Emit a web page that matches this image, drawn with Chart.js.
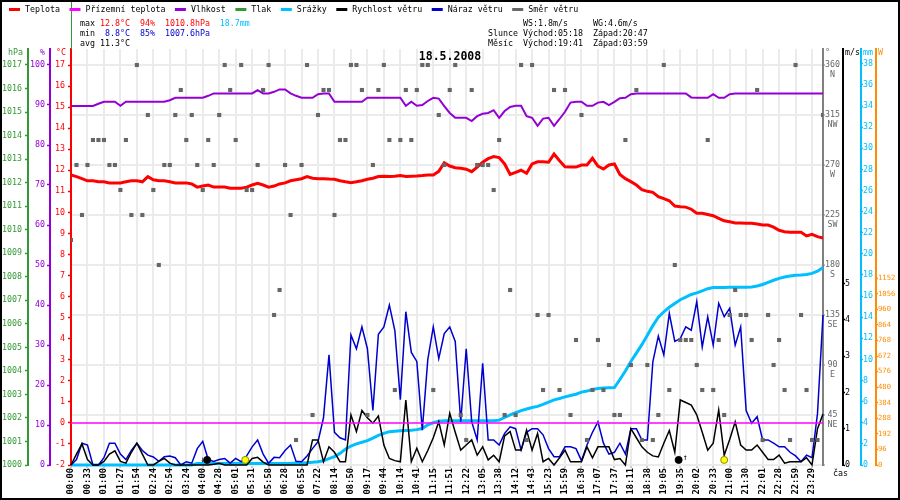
<!DOCTYPE html>
<html>
<head>
<meta charset="utf-8">
<title>18.5.2008</title>
<script src="https://cdn.jsdelivr.net/npm/chart.js@4.4.1/dist/chart.umd.min.js"></script>
<style>
  html, body { margin: 0; padding: 0; background: #fff; }
  #wrap { width: 900px; height: 500px; position: relative; }
</style>
</head>
<body>
<div id="wrap"><canvas id="meteo"></canvas></div>
<script>
// Time of every third sample, as printed under the chart
const timeLabels = [
  '00:00', '00:33', '01:00', '01:27', '01:54', '02:24', '02:54', '03:24', '04:00', '04:28',
  '05:01', '05:31', '05:58', '06:28', '06:55', '07:22', '08:14', '08:50', '09:17', '09:44',
  '10:14', '10:41', '11:15', '11:51', '12:22', '13:05', '13:38', '14:12', '14:43', '15:23',
  '15:59', '16:30', '17:07', '17:37', '18:11', '18:38', '19:05', '19:35', '20:02', '20:33',
  '21:00', '21:30', '22:01', '22:28', '22:59', '23:29'
];

// Samples (138 of them)
const temperature = [
  11.78, 11.7, 11.6, 11.5, 11.5, 11.45, 11.45, 11.4, 11.4, 11.4,
  11.45, 11.5, 11.5, 11.45, 11.7, 11.55, 11.5, 11.5, 11.45, 11.4,
  11.4, 11.4, 11.35, 11.2, 11.25, 11.3, 11.2, 11.2, 11.2, 11.15,
  11.15, 11.15, 11.2, 11.3, 11.38, 11.3, 11.2, 11.25, 11.35, 11.4,
  11.5, 11.55, 11.6, 11.7, 11.62, 11.6, 11.6, 11.58, 11.57, 11.5,
  11.45, 11.41, 11.45, 11.5, 11.57, 11.62, 11.7, 11.72, 11.7, 11.72,
  11.75, 11.7, 11.72, 11.73, 11.75, 11.78, 11.78, 11.95, 12.36, 12.2,
  12.12, 12.1, 12.05, 11.93, 12.15, 12.38, 12.55, 12.65, 12.6, 12.3,
  11.8, 11.9, 12.0, 11.86, 12.3, 12.4, 12.4, 12.38, 12.77, 12.45,
  12.17, 12.15, 12.15, 12.25, 12.25, 12.57, 12.2, 12.06, 12.25, 12.3,
  11.8, 11.6, 11.46, 11.3, 11.08, 11.0, 10.95, 10.75, 10.65, 10.55,
  10.3, 10.27, 10.25, 10.15, 9.96, 9.96, 9.9, 9.84, 9.72, 9.6,
  9.55, 9.5, 9.5, 9.48, 9.48, 9.45, 9.4, 9.4, 9.3, 9.15,
  9.08, 9.06, 9.05, 9.05, 8.88, 8.96, 8.85, 8.78
];

const groundTemp = [
  0, 0, 0, 0, 0, 0, 0, 0, 0, 0,
  0, 0, 0, 0, 0, 0, 0, 0, 0, 0,
  0, 0, 0, 0, 0, 0, 0, 0, 0, 0,
  0, 0, 0, 0, 0, 0, 0, 0, 0, 0,
  0, 0, 0, 0, 0, 0, 0, 0, 0, 0,
  0, 0, 0, 0, 0, 0, 0, 0, 0, 0,
  0, 0, 0, 0, 0, 0, 0, 0, 0, 0,
  0, 0, 0, 0, 0, 0, 0, 0, 0, 0,
  0, 0, 0, 0, 0, 0, 0, 0, 0, 0,
  0, 0, 0, 0, 0, 0, 0, 0, 0, 0,
  0, 0, 0, 0, 0, 0, 0, 0, 0, 0,
  0, 0, 0, 0, 0, 0, 0, 0, 0, 0,
  0, 0, 0, 0, 0, 0, 0, 0, 0, 0,
  0, 0, 0, 0, 0, 0, 0, 0
];

const humidity = [
  89.75, 89.75, 89.75, 89.75, 89.75, 90.3, 90.8, 90.8, 90.8, 89.8,
  90.8, 90.8, 90.8, 90.8, 90.8, 90.8, 90.8, 90.8, 91.2, 91.8,
  91.8, 91.8, 91.8, 91.8, 91.8, 92.3, 92.9, 92.9, 92.9, 92.9,
  92.9, 92.9, 92.9, 92.9, 93.7, 92.9, 92.9, 93.3, 93.9, 93.9,
  92.9, 92.3, 91.8, 91.8, 91.8, 92.7, 92.9, 92.9, 90.8, 90.8,
  90.8, 90.8, 90.8, 90.8, 91.8, 91.8, 91.8, 91.8, 91.8, 91.8,
  91.8, 89.8, 90.8, 89.8, 90.0, 91.0, 91.8, 91.6, 89.7, 88.0,
  86.8, 86.8, 86.8, 86.0, 87.2, 87.8, 88.0, 88.7, 86.8, 88.5,
  89.5, 89.8, 89.8, 87.2, 86.8, 84.8, 86.6, 86.8, 84.8, 86.5,
  88.3, 90.6, 90.8, 90.8, 89.8, 89.8, 90.6, 90.8, 90.0, 90.8,
  91.7, 91.8, 92.7, 92.9, 92.9, 92.9, 92.9, 92.9, 92.9, 92.9,
  92.9, 92.9, 92.9, 91.9, 91.8, 91.8, 91.8, 92.7, 91.8, 91.8,
  92.7, 92.9, 92.9, 92.9, 92.9, 92.9, 92.9, 92.9, 92.9, 92.9,
  92.9, 92.9, 92.9, 92.9, 92.9, 92.9, 92.9, 92.9
];

// no pressure trace is drawn on this day, only its max/min in the header
const pressure = [];

const rainTotal = [
  0, 0, 0, 0, 0, 0, 0, 0, 0, 0,
  0, 0, 0, 0, 0, 0, 0, 0, 0, 0,
  0, 0, 0, 0.15, 0.15, 0.15, 0.15, 0.15, 0.15, 0.15,
  0.15, 0.15, 0.15, 0.15, 0.15, 0.15, 0.15, 0.15, 0.15, 0.15,
  0.15, 0.18, 0.2, 0.22, 0.25, 0.3, 0.4, 0.6, 0.8, 1.1,
  1.5, 1.8, 2.0, 2.15, 2.3, 2.55, 2.8, 3.0, 3.16, 3.2,
  3.24, 3.27, 3.3, 3.35, 3.45, 3.8, 4.0, 4.15, 4.2, 4.2,
  4.2, 4.2, 4.2, 4.2, 4.2, 4.2, 4.2, 4.2, 4.25, 4.5,
  4.75, 4.95, 5.15, 5.3, 5.45, 5.55, 5.75, 5.95, 6.17, 6.3,
  6.45, 6.58, 6.7, 6.9, 7.0, 7.15, 7.25, 7.3, 7.32, 7.34,
  8.1, 8.9, 9.8, 10.6, 11.4, 12.3, 13.2, 14.0, 14.5, 14.95,
  15.3, 15.65, 15.9, 16.15, 16.3, 16.5, 16.7, 16.8, 16.82, 16.82,
  16.83, 16.83, 16.84, 16.84, 16.85, 16.95, 17.1, 17.3, 17.5, 17.68,
  17.8, 17.9, 17.97, 18.0, 18.05, 18.15, 18.35, 18.7
];

const windSpeed = [
  0, 0.3, 0.58, 0.15, 0, 0, 0.1, 0.3, 0.39, 0.1,
  0.05, 0.35, 0.6, 0.3, 0, 0, 0.1, 0.18, 0.05, 0,
  0, 0, 0, 0, 0, 0, 0.02, 0.05, 0, 0,
  0, 0, 0, 0.18, 0.21, 0.08, 0, 0, 0, 0,
  0, 0, 0, 0, 0.69, 0.69, 0.09, 0.5, 0.35, 0.09,
  0.09, 1.38, 0.92, 1.5, 1.3, 1.15, 1.35, 0.55, 0.18, 0.12,
  0.09, 1.79, 0.09, 0.46, 0.09, 0.4, 0.75, 1.19, 0.55, 1.42,
  0.9, 0.41, 0.55, 0.69, 0.27, 0.5, 0.14, 0.27, 0.09, 0.8,
  0.92, 0.41, 0.41, 0.96, 0.41, 0.87, 0.09, 0.18, 0, 0.2,
  0.41, 0.09, 0.09, 0.09, 0.5, 0.2, 0.5, 0.5, 0.5, 0.15,
  0.18, 0, 1.0, 0.75, 0.5, 0.35, 0.25, 0.22, 0.6, 0.95,
  0.35, 1.79, 1.72, 1.65, 1.38, 0.9, 0.41, 0.6, 1.51, 0.27,
  0.7, 1.19, 0.55, 0.41, 0.41, 0.55, 0.35, 0.15, 0.15, 0.27,
  0.05, 0.09, 0.09, 0.09, 0.2, 0, 1.0, 1.4
];

const windGust = [
  0, 0.15, 0.6, 0.55, 0, 0, 0.2, 0.6, 0.6, 0.3,
  0.15, 0.4, 0.6, 0.4, 0.27, 0.22, 0.1, 0.23, 0.25, 0.2,
  0, 0.09, 0.05, 0.45, 0.65, 0.15, 0.1, 0.15, 0.18, 0.05,
  0.18, 0.09, 0.25, 0.5, 0.69, 0.3, 0.05, 0.21, 0.2, 0.4,
  0.55, 0.1, 0.09, 0.25, 0.45, 0.64, 1.3, 3.03, 0.9, 0.75,
  0.69, 3.58, 3.2, 3.8, 3.2, 1.5, 3.6, 3.8, 4.4, 3.7,
  1.8, 4.22, 3.1, 2.85, 0.96, 2.9, 3.8, 2.93, 3.62, 3.8,
  3.4, 1.19, 3.2, 1.19, 0.69, 2.8, 0.69, 0.69, 0.55, 0.87,
  1.05, 1.0, 0.41, 0.9, 1.0, 1.0, 0.83, 0.45, 0.23, 0.23,
  0.5, 0.5, 0.45, 0.12, 0.55, 0.9, 1.19, 0.6, 0.3, 0.35,
  0.6, 0.3, 1.0, 1.0, 0.69, 0.69, 2.84, 3.55, 3.03, 4.17,
  3.4, 3.48, 3.8, 3.71, 4.5, 3.25, 4.08, 3.3, 4.45, 4.08,
  4.31, 3.3, 3.8, 1.5, 1.15, 1.33, 0.69, 0.69, 0.6, 0.5,
  0.5, 0.35, 0.25, 0.09, 0.27, 0.2, 1.42, 4.13
];

const windDir = [
  202.5, 270, 225, 270, 292.5, 292.5, 292.5, 270, 270, 247.5,
  292.5, 225, 360, 225, 315, 247.5, 180, 270, 270, 315,
  337.5, 292.5, 315, 270, 247.5, 292.5, 270, 315, 360, 337.5,
  292.5, 360, 247.5, 247.5, 270, 337.5, 360, 135, 157.5, 270,
  225, 22.5, 270, 360, 45, 315, 337.5, 337.5, 225, 292.5,
  292.5, 360, 360, 337.5, 45, 270, 337.5, 360, 292.5, 67.5,
  292.5, 337.5, 292.5, 337.5, 360, 360, 67.5, 315, 270, 337.5,
  360, 45, 22.5, 337.5, 270, 270, 270, 247.5, 292.5, 45,
  157.5, 45, 360, 22.5, 360, 135, 67.5, 135, 337.5, 67.5,
  337.5, 45, 112.5, 315, 22.5, 67.5, 112.5, 67.5, 90, 45,
  45, 292.5, 90, 337.5, 22.5, 90, 22.5, 45, 360, 67.5,
  180, 112.5, 112.5, 112.5, 90, 67.5, 292.5, 67.5, 112.5, 45,
  135, 157.5, 135, 135, 112.5, 337.5, 22.5, 135, 90, 112.5,
  67.5, 22.5, 360, 135, 67.5, 22.5, 22.5, 315
];

// Moon and sun events, in sample positions along the time axis
const astroAt = [24.8, 31.75, 110.7, 119.0];
const astroKind = ['moonset', 'sunrise', 'moonrise', 'sunset'];

// Header texts
const dayTitle = '18.5.2008';
const statMax = ['12.8°C', '94%', '1010.8hPa', '18.7mm'];
const statMin = ['8.8°C', '85%', '1007.6hPa'];
const statAvg = '11.3°C';
const windMax = ['WS:1.8m/s', 'WG:4.6m/s'];
const sunTimes = ['Východ:05:18', 'Západ:20:47'];
const moonTimes = ['Východ:19:41', 'Západ:03:59'];
const compass = ['', 'NE', 'E', 'SE', 'S', 'SW', 'W', 'NW', 'N'];

const RED = '#ff0000', MAGENTA = '#ff00ff', PURPLE = '#9400d3', GREEN = '#339933',
  CYAN = '#00bfff', BLUE = '#0000cd', MINBLUE = '#0000cc', GRAY = '#666666',
  DIRGRAY = '#808080', ORANGE = '#ff8c00', GRID = '#ebebeb';
const MONO = '"DejaVu Sans Mono", monospace';
const SMALL = '8.3px ' + MONO;

Chart.defaults.font.family = MONO;
Chart.defaults.font.size = 8.3;
Chart.defaults.color = '#000';

const xy = arr => arr.map((v, i) => ({ x: i, y: v }));

// Draw pieces of text one after another, each in its own colour
function drawRun(ctx, parts, x, y) {
  parts.forEach(([text, color]) => {
    ctx.fillStyle = color;
    ctx.fillText(text, x, y);
    x += ctx.measureText(text).width;
  });
}

// Legend, header block, title, axis units and the frame
const meteoDecor = {
  id: 'meteoDecor',
  afterDraw(chart) {
    const { ctx, chartArea: area, scales } = chart;
    ctx.save();
    ctx.textBaseline = 'middle';
    ctx.textAlign = 'left';
    ctx.font = SMALL;

    // separator from the top edge down to the plot
    ctx.strokeStyle = GREEN;
    ctx.lineWidth = 1;
    ctx.beginPath();
    ctx.moveTo(Math.round(area.left) + 0.5, 0);
    ctx.lineTo(Math.round(area.left) + 0.5, area.top);
    ctx.stroke();

    // legend row
    let x = 9;
    chart.data.datasets.forEach(ds => {
      if (!ds.label) return;
      ctx.fillStyle = ds.borderColor;
      ctx.fillRect(x, 8, 11, 3);
      ctx.fillStyle = '#000';
      ctx.fillText(ds.label, x + 16, 10);
      x += 25.5 + ctx.measureText(ds.label).width;
    });

    // day summary
    drawRun(ctx, [['max ', '#000'], [statMax[0], RED], ['  ', '#000'], [statMax[1], RED],
      ['  ', '#000'], [statMax[2], RED], ['  ', '#000'], [statMax[3], CYAN]], 80, 24);
    drawRun(ctx, [['min  ', '#000'], [statMin[0], MINBLUE], ['  ', '#000'], [statMin[1], MINBLUE],
      ['  ', '#000'], [statMin[2], MINBLUE]], 80, 34);
    drawRun(ctx, [['avg ' + statAvg, '#000']], 80, 44);

    drawRun(ctx, [['       ' + windMax[0] + '     ' + windMax[1], '#000']], 488, 24);
    drawRun(ctx, [['Slunce ' + sunTimes[0] + '  ' + sunTimes[1], '#000']], 488, 34);
    drawRun(ctx, [['Měsíc  ' + moonTimes[0] + '  ' + moonTimes[1], '#000']], 488, 44);

    // axis units on top of each axis line
    const units = {
      hpa: ['hPa', GREEN], hum: ['%', PURPLE], temp: ['°C', RED],
      dir: ['°', GRAY], wind: ['m/s', '#000'], rain: ['mm', CYAN], sun: ['W', ORANGE]
    };
    Object.entries(units).forEach(([id, [txt, col]]) => {
      const s = scales[id];
      ctx.fillStyle = col;
      if (s.position === 'left') {
        ctx.textAlign = 'right';
        ctx.fillText(txt, s.right - 5, area.top + 4);
      } else {
        ctx.textAlign = 'left';
        ctx.fillText(txt, s.left + 2, area.top + 4);
      }
    });
    ctx.textAlign = 'left';
    ctx.fillStyle = '#000';
    ctx.fillText('čas', area.right + 10, area.bottom + 9);

    // moon arrows next to the moon dots
    const astroMeta = chart.getDatasetMeta(chart.data.datasets.length - 1);
    astroMeta.data.forEach((pt, i) => {
      if (astroKind[i] === 'moonset') {
        ctx.textAlign = 'right';
        ctx.fillText('↓', pt.x - 2, pt.y);
      } else if (astroKind[i] === 'moonrise') {
        ctx.textAlign = 'left';
        ctx.fillText('↑', pt.x + 4, pt.y - 2);
      }
    });

    // title
    ctx.font = 'bold 11.5px ' + MONO;
    ctx.textAlign = 'center';
    ctx.fillStyle = '#000';
    ctx.fillText(dayTitle, 450, 57);

    // frame
    ctx.strokeStyle = '#000';
    ctx.lineWidth = 2;
    ctx.strokeRect(1, 1, chart.width - 2, chart.height - 2);
    ctx.restore();
  }
};

function sideAxis(opts) {
  const { position, weight, min, max, step, color, width, pad, size } = opts;
  return {
    type: 'linear', position, weight, min, max,
    afterFit: s => { s.width = width; },
    border: { color, width: 2 },
    grid: { drawOnChartArea: false, color, tickColor: color, tickLength: position === 'left' ? 3 : 2, tickWidth: 1.5 },
    ticks: {
      stepSize: step, includeBounds: false, autoSkip: false, color, padding: pad,
      font: { size: size || 8.3 },
      callback: v => String(v)
    }
  };
}

const scales = {
  x: {
    type: 'linear', position: 'bottom', min: 0, max: 137,
    afterFit: s => { s.height = 35; },
    border: { display: false },
    grid: { color: GRID, lineWidth: 2, tickColor: '#999', tickLength: 3, tickWidth: 1 },
    ticks: {
      stepSize: 3, includeBounds: false, autoSkip: false, maxRotation: 90, minRotation: 90,
      padding: 0, color: '#000', font: { size: 8.8, weight: 'bold' },
      callback: v => timeLabels[v / 3] ?? ''
    }
  },
  hpa: sideAxis({ position: 'left', weight: 3, min: 1000, max: 1017.68, step: 1, color: GREEN, width: 28, pad: 3 }),
  hum: sideAxis({ position: 'left', weight: 2, min: 0, max: 104, step: 10, color: PURPLE, width: 22, pad: 2 }),
  temp: sideAxis({ position: 'left', weight: 1, min: -2, max: 17.76, step: 1, color: RED, width: 21, pad: 3 }),
  dir: {
    type: 'linear', position: 'right', weight: 1, min: 0, max: 374.4,
    afterFit: s => { s.width = 20; },
    border: { color: DIRGRAY, width: 2 },
    grid: { drawOnChartArea: true, color: GRID, lineWidth: 2, tickColor: DIRGRAY, tickLength: 2, tickWidth: 1 },
    ticks: {
      stepSize: 45, includeBounds: false, autoSkip: false, color: GRAY, padding: 0, crossAlign: 'center',
      callback: v => v === 0 ? '' : ['', String(v), compass[v / 45]]
    }
  },
  wind: Object.assign(sideAxis({ position: 'right', weight: 2, min: 0, max: 11.45, step: 1, color: '#000', width: 18, pad: 0 }), {
    afterBuildTicks: s => { s.ticks = s.ticks.filter(t => t.value <= 5); }
  }),
  rain: sideAxis({ position: 'right', weight: 3, min: 0, max: 39.4, step: 2, color: CYAN, width: 15, pad: 0 }),
  sun: Object.assign(sideAxis({ position: 'right', weight: 4, min: 0, max: 2566, step: 96, color: ORANGE, width: 24, pad: 0, size: 7.2 }), {
    afterBuildTicks: s => { s.ticks = s.ticks.filter(t => t.value <= 1152); }
  })
};

new Chart(document.getElementById('meteo'), {
  type: 'line',
  data: {
    datasets: [
      { label: 'Teplota', data: xy(temperature), yAxisID: 'temp', borderColor: RED, borderWidth: 3, order: 2 },
      { label: 'Přízemní teplota', data: xy(groundTemp), yAxisID: 'temp', borderColor: MAGENTA, borderWidth: 1.5, order: 3 },
      { label: 'Vlhkost', data: xy(humidity), yAxisID: 'hum', borderColor: PURPLE, borderWidth: 2, order: 4 },
      { label: 'Tlak', data: xy(pressure), yAxisID: 'hpa', borderColor: GREEN, borderWidth: 2, order: 5 },
      { label: 'Srážky', data: xy(rainTotal), yAxisID: 'rain', borderColor: CYAN, borderWidth: 3, order: 8, clip: 3 },
      { label: 'Rychlost větru', data: xy(windSpeed), yAxisID: 'wind', borderColor: '#000', borderWidth: 1.5, order: 6, clip: 2 },
      { label: 'Náraz větru', data: xy(windGust), yAxisID: 'wind', borderColor: BLUE, borderWidth: 1.5, order: 7, clip: 2 },
      {
        label: 'Směr větru', data: xy(windDir), yAxisID: 'dir', borderColor: GRAY, showLine: false,
        pointStyle: 'rect', pointRadius: 2.9, pointBackgroundColor: GRAY, pointBorderWidth: 0, order: 1
      },
      {
        label: '', data: astroAt.map(x => ({ x, y: 0.14 })), yAxisID: 'wind', showLine: false, clip: false,
        pointStyle: 'circle', pointRadius: 3.5, pointBorderWidth: 1,
        pointBackgroundColor: astroKind.map(k => k.startsWith('moon') ? '#000000' : '#ffff00'),
        pointBorderColor: astroKind.map(k => k.startsWith('moon') ? '#000000' : '#8a8a00'),
        order: 0
      }
    ]
  },
  options: {
    responsive: true,
    maintainAspectRatio: false,
    animation: false,
    events: [],
    layout: { padding: { top: 49, left: 0, right: 0, bottom: 0 } },
    elements: { point: { radius: 0 }, line: { tension: 0 } },
    plugins: { legend: { display: false }, tooltip: { enabled: false } },
    scales
  },
  plugins: [meteoDecor]
});
</script>
</body>
</html>
